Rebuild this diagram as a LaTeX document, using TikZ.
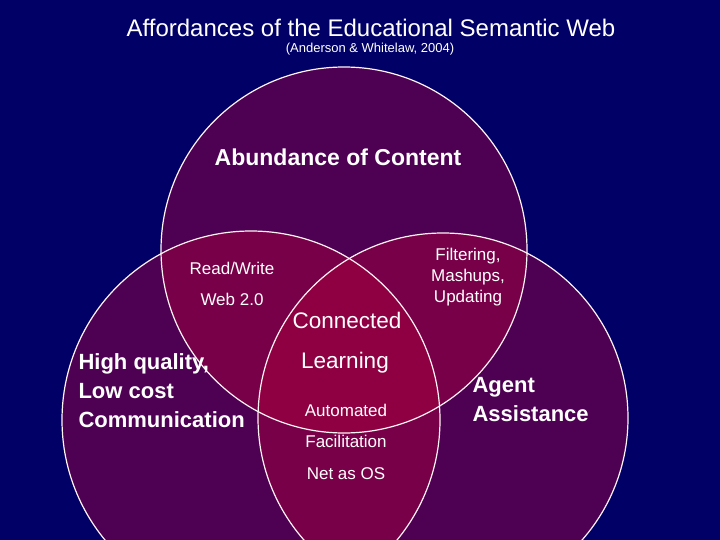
\documentclass[tikz,border=0pt]{standalone}
\usepackage{fontspec}
\setmainfont{Liberation Sans}
\definecolor{bg}{rgb}{0,0,0.4}
\definecolor{cf}{rgb}{0.68,0,0.24}
\begin{document}
\begin{tikzpicture}[x=1pt,y=-1pt,
  circ/.style={fill=cf,fill opacity=0.45},
  ring/.style={draw=white!85!pink,line width=1.2pt},
  lbl/.style={text=white,font=\fontsize{17}{21}\selectfont,align=center},
  big/.style={text=white,font=\fontsize{22.5}{27}\selectfont},
  bigb/.style={text=white,font=\fontsize{22}{29}\selectfont\bfseries,align=left}]
\fill[bg] (0,0) rectangle (720,540);
\useasboundingbox (0,0) rectangle (720,540);
\begin{scope}
\clip (0,0) rectangle (720,540);
\fill[circ] (344,250) circle (183);
\fill[circ] (251,420) circle (189);
\fill[circ] (443,418) circle (185);
\draw[ring] (344,250) circle (183);
\draw[ring] (251,420) circle (189);
\draw[ring] (443,418) circle (185);
\end{scope}
\node[text=white,font=\fontsize{24}{28}\selectfont] (title) at (371,28) {Affordances of the Educational Semantic Web};
\node[text=white,font=\fontsize{13}{15}\selectfont] (sub) at (370,49) {(Anderson \& Whitelaw, 2004)};
\node[big,font=\fontsize{23}{27}\selectfont\bfseries] (abund) at (338,157) {Abundance of Content};
\node[lbl] (rw) at (232,268) {Read/Write};
\node[lbl] (web) at (232,299) {Web 2.0};
\node[big] (conn) at (347,320) {Connected};
\node[big] (learn) at (345,363) {Learning};
\node[bigb,anchor=west] (hq) at (75,391) {High quality,\\Low cost\\Communication};
\node[lbl] (filt) at (468,277) {Filtering,\\Mashups,\\Updating};
\node[bigb,anchor=west] (agent) at (469,400) {Agent\\Assistance};
\node[lbl] (auto) at (346,410) {Automated};
\node[lbl] (fac) at (346,441) {Facilitation};
\node[lbl] (net) at (346,474) {Net as OS};
\end{tikzpicture}
\end{document}
